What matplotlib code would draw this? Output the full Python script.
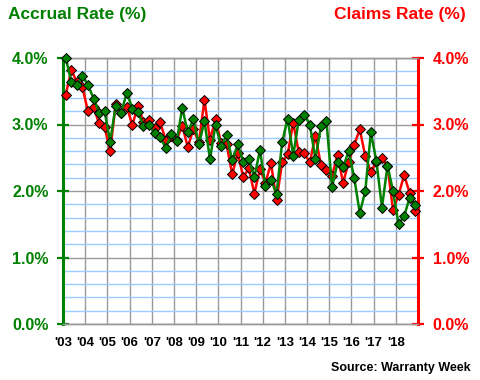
import matplotlib
matplotlib.use("Agg")
import matplotlib.pyplot as plt
from matplotlib.ticker import MultipleLocator

plt.rcParams['font.family'] = ['Liberation Sans', 'DejaVu Sans']

# quarterly rates, Q1 2003 .. Q4 2018
accrual = [4.00, 3.64, 3.59, 3.73, 3.60, 3.39, 3.18, 3.20, 2.74, 3.28,
           3.18, 3.48, 3.24, 3.19, 2.98, 2.99, 2.87, 2.81, 2.65, 2.85,
           2.75, 3.25, 2.88, 3.08, 2.70, 3.05, 2.48, 3.00, 2.67, 2.84,
           2.46, 2.70, 2.44, 2.48, 2.21, 2.61, 2.08, 2.17, 1.95, 2.73,
           3.09, 2.53, 3.07, 3.15, 3.00, 2.48, 2.97, 3.05, 2.06, 2.43,
           2.36, 2.60, 2.20, 1.67, 2.00, 2.88, 2.45, 1.75, 2.38, 2.00,
           1.50, 1.62, 1.90, 1.79]
claims = [3.45, 3.82, 3.64, 3.56, 3.20, 3.26, 3.02, 2.96, 2.60, 3.31,
          3.18, 3.27, 2.99, 3.28, 3.04, 3.07, 2.95, 3.04, 2.77, 2.83,
          2.77, 2.98, 2.66, 2.93, 2.73, 3.37, 2.77, 3.08, 2.72, 2.70,
          2.25, 2.57, 2.21, 2.34, 1.96, 2.33, 2.12, 2.42, 1.86, 2.43,
          2.55, 3.03, 2.58, 2.57, 2.43, 2.83, 2.39, 2.32, 2.23, 2.54,
          2.12, 2.44, 2.69, 2.93, 2.52, 2.29, 2.44, 2.49, 2.38, 1.71,
          1.94, 2.24, 1.97, 1.70]
year_labels = ["'03", "'04", "'05", "'06", "'07", "'08", "'09", "'10",
               "'11", "'12", "'13", "'14", "'15", "'16", "'17", "'18"]
y_ticks = [0, 1, 2, 3, 4]

GREEN = '#008000'
RED = '#ff0000'
GRAY = '#999999'
BLUE = '#99ccff'

fig = plt.figure(figsize=(4.8, 3.8), dpi=100)
ax = fig.add_axes([63 / 480, 56 / 380, 355 / 480, 266 / 380])
ax2 = ax.twinx()

x = list(range(len(accrual)))

# grid
ax.set_yticks(y_ticks)
ax.set_yticklabels([f'{v:.1f}%' for v in y_ticks])
ax.yaxis.set_minor_locator(MultipleLocator(0.2))
ax.grid(which='minor', axis='y', color=BLUE, lw=1)
ax.grid(which='major', axis='y', color=GRAY, lw=1)
year_pos = [-0.5 + 4 * k for k in range(17)]
ax.set_xticks(year_pos)
ax.set_xticklabels(year_labels + [''])
ax.grid(which='major', axis='x', color=GRAY, lw=1)
ax.set_axisbelow(True)

ax2.set_yticks(y_ticks)
ax2.set_yticklabels([f'{v:.1f}%' for v in y_ticks])

ax2.plot(x, claims, color=RED, lw=1.8, marker='D', ms=5.2,
         mfc=RED, mec='black', mew=0.7, zorder=3, clip_on=False)
ax2.plot(x, accrual, color=GREEN, lw=1.8, marker='D', ms=5.2,
         mfc=GREEN, mec='black', mew=0.7, zorder=4, clip_on=False)

ax.set_xlim(-0.5, len(accrual) - 0.5)
ax.set_ylim(0, 4)
ax2.set_ylim(0, 4)

for a in (ax, ax2):
    for s in ('top', 'bottom'):
        a.spines[s].set_color(GRAY)
        a.spines[s].set_linewidth(1)
ax.spines['left'].set_color(GREEN)
ax.spines['left'].set_linewidth(2.2)
ax.spines['right'].set_visible(False)
ax2.spines['left'].set_visible(False)
ax2.spines['right'].set_color(RED)
ax2.spines['right'].set_linewidth(2.2)

ax.tick_params(axis='y', which='major', direction='inout', length=9, width=1.6,
               color=GREEN, labelcolor=GREEN, labelsize=11.5, pad=6)
ax.tick_params(axis='y', which='minor', length=0)
ax.tick_params(axis='x', length=0, pad=9, labelsize=9.5)
ax2.tick_params(axis='y', which='major', direction='inout', length=9, width=1.6,
                color=RED, labelcolor=RED, labelsize=11.5, pad=6)
for lab in ax.get_yticklabels() + ax2.get_yticklabels() + ax.get_xticklabels():
    lab.set_fontweight('bold')

fig.text(8 / 480, 1 - 15 / 380, 'Accrual Rate (%)', color=GREEN, fontsize=12.5,
         fontweight='bold', ha='left', va='center')
fig.text(466 / 480, 1 - 15 / 380, 'Claims Rate (%)', color=RED, fontsize=12.5,
         fontweight='bold', ha='right', va='center')
fig.text(471 / 480, 1 - 368 / 380, 'Source: Warranty Week', color='black',
         fontsize=9, fontweight='bold', ha='right', va='center')

fig.savefig('out.png', dpi=100)
